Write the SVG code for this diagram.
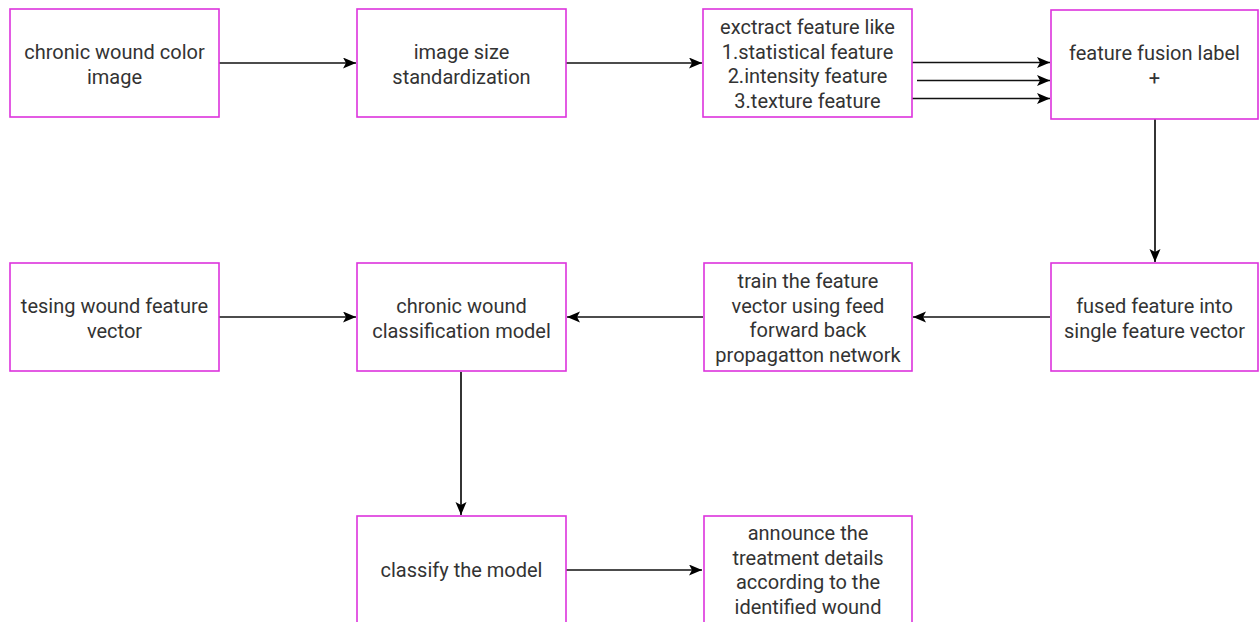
<svg xmlns="http://www.w3.org/2000/svg" width="1259" height="622" viewBox="0 0 1259 622">
<style>
.box{fill:#fff;stroke:#dd33dd;stroke-width:1.6}
.lbl{font-family:Roboto,"Liberation Sans",Arial,sans-serif;font-size:20px;fill:#333;text-anchor:middle}
.edge{stroke:#111;stroke-width:1.7;fill:none;marker-end:url(#ah)}
</style>
<defs>
<marker id="ah" markerUnits="userSpaceOnUse" markerWidth="15" markerHeight="13" refX="13" refY="5.5" orient="auto">
<path d="M0,0 L13,5.5 L0,11 L3,5.5 Z" fill="#000"/>
</marker>
</defs>
<rect width="1259" height="622" fill="#fff"/>
<g id="connectors">
<path class="edge" d="M219,63 H356"/>
<path class="edge" d="M566,63 H702"/>
<path class="edge" d="M912,62.5 H1050"/>
<path class="edge" d="M917,80.5 H1050"/>
<path class="edge" d="M912,98.5 H1050"/>
<path class="edge" d="M1155,119 V262"/>
<path class="edge" d="M1050,317 H913"/>
<path class="edge" d="M703,317 H567"/>
<path class="edge" d="M219,317 H356"/>
<path class="edge" d="M461,372 V515"/>
<path class="edge" d="M566,570 H702"/>
</g>
<g id="n1"><rect class="box" x="10" y="9" width="209" height="108"/>
<text class="lbl" x="114.5" y="59">chronic wound color</text><text class="lbl" x="114.5" y="83.5">image</text></g>
<g id="n2"><rect class="box" x="357" y="9" width="209" height="108"/>
<text class="lbl" x="461.5" y="59">image size</text><text class="lbl" x="461.5" y="83.5">standardization</text></g>
<g id="n3"><rect class="box" x="703" y="9" width="209" height="108"/>
<text class="lbl" x="807.5" y="34">exctract feature like</text><text class="lbl" x="807.5" y="58.5">1.statistical feature</text><text class="lbl" x="807.5" y="83">2.intensity feature</text><text class="lbl" x="807.5" y="107.5">3.texture feature</text></g>
<g id="n4"><rect class="box" x="1051" y="10" width="207" height="109"/>
<text class="lbl" x="1154.5" y="60">feature fusion label</text><text class="lbl" x="1154.5" y="84.5">+</text></g>
<g id="n5"><rect class="box" x="10" y="263" width="209" height="108"/>
<text class="lbl" x="114.5" y="313">tesing wound feature</text><text class="lbl" x="114.5" y="337.5">vector</text></g>
<g id="n6"><rect class="box" x="357" y="263" width="209" height="108"/>
<text class="lbl" x="461.5" y="313">chronic wound</text><text class="lbl" x="461.5" y="337.5">classification model</text></g>
<g id="n7"><rect class="box" x="704" y="263" width="208" height="108"/>
<text class="lbl" x="808" y="288">train the feature</text><text class="lbl" x="808" y="312.5">vector using feed</text><text class="lbl" x="808" y="337">forward back</text><text class="lbl" x="808" y="361.5">propagatton network</text></g>
<g id="n8"><rect class="box" x="1051" y="263" width="207" height="108"/>
<text class="lbl" x="1154.5" y="313">fused feature into</text><text class="lbl" x="1154.5" y="337.5">single feature vector</text></g>
<g id="n9"><rect class="box" x="357" y="516" width="209" height="108"/>
<text class="lbl" x="461.5" y="577">classify the model</text></g>
<g id="n10"><rect class="box" x="704" y="516" width="208" height="108"/>
<text class="lbl" x="808" y="540">announce the</text><text class="lbl" x="808" y="564.5">treatment details</text><text class="lbl" x="808" y="589">according to the</text><text class="lbl" x="808" y="613.5">identified wound</text></g>
</svg>
